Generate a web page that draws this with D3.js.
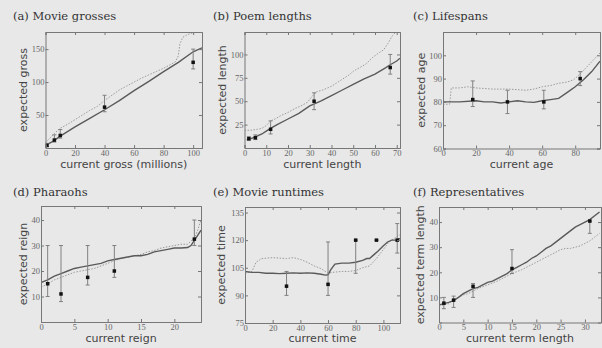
<!DOCTYPE html>
<html>
<head>
<meta charset="utf-8">
<script src="https://cdn.jsdelivr.net/npm/d3@7"></script>
<style>
  body { margin: 0; background: #e8e8e8; }
  svg { display: block; }
  .tick text { font-family: 'Liberation Serif', serif; font-size: 8.5px; fill: #666; }
  .tick line, .domain { stroke: #777; }
</style>
</head>
<body>
<div id="chart"></div>
<script>
// (a) Movie grosses
const grossXTicks = [0, 20, 40, 60, 80, 100];
const grossYTicks = [50, 100, 150];
const grossSolid = [[0, 4], [5, 10], [10, 18], [20, 32], [30, 45], [40, 58], [50, 72], [60, 87], [70, 101], [80, 116], [90, 130], [100, 146], [106, 152]];
const grossDotted = [[0, 8], [3, 15], [6, 22], [10, 30], [15, 36], [20, 43], [25, 50], [30, 57], [35, 63], [40, 72], [45, 80], [50, 88], [55, 94], [60, 100], [65, 106], [70, 111], [75, 116], [80, 121], [85, 127], [88, 131], [90, 140], [91, 158], [93, 168], [96, 172], [100, 175], [106, 178]];
const grossPoints = [[1, 4, 2, 7], [6, 12, 9, 20], [10, 19, 15, 28], [40, 62, 55, 80], [100, 130, 120, 150]];

// (b) Poem lengths
const poemXTicks = [0, 10, 20, 30, 40, 50, 60, 70];
const poemYTicks = [25, 50, 75, 100];
const poemSolid = [[1, 9], [3, 10], [5, 12], [8, 15], [10, 18], [12, 21], [15, 25], [20, 31], [25, 37], [30, 45], [35, 50], [40, 56], [45, 62], [50, 68], [55, 74], [60, 79], [65, 86], [67, 89], [70, 93], [71.5, 96]];
const poemDotted = [[0, 19], [3, 19], [6, 20], [8, 21], [10, 24], [12, 29], [14, 31], [17, 35], [20, 38], [23, 42], [26, 45], [29, 49], [31, 55], [33, 60], [36, 62], [40, 66], [44, 72], [48, 78], [50, 82], [53, 86], [56, 90], [59, 97], [62, 102], [64, 105], [66, 112], [68, 120], [70, 125]];
const poemPoints = [[2, 10, 8, 12], [5, 11, 9, 14], [12, 20, 15, 29], [32, 50, 41, 59], [67, 86, 79, 100]];

// (c) Lifespans
const lifeXTicks = [0, 20, 40, 60, 80];
const lifeYTicks = [60, 70, 80, 90, 100];
const lifeSolid = [[0, 80], [10, 80], [20, 80.5], [25, 80], [30, 80], [35, 79.5], [40, 80], [45, 80.5], [50, 80], [55, 79.8], [60, 80.5], [65, 81], [70, 81.5], [75, 84], [80, 86.5], [85, 89.5], [90, 93], [95, 97.5]];
const lifeDotted = [[0, 79], [4, 79], [5, 86], [10, 86], [15, 86.5], [20, 86], [30, 85.5], [40, 85.5], [50, 85], [55, 85.5], [60, 86.5], [65, 87], [70, 88], [75, 88.5], [79, 89.5], [83, 92], [87, 95], [91, 98], [95, 101]];
const lifePoints = [[18, 81, 78, 89], [39, 80, 75, 85], [61, 80, 77, 85], [83, 90, 87, 93]];

// (d) Pharaohs
const pharXTicks = [0, 5, 10, 15, 20];
const pharYTicks = [10, 20, 30, 40];
const pharSolid = [[0, 15.5], [1, 16.5], [2, 18], [3, 19], [4, 20], [5, 21], [6, 21.5], [7, 22], [8, 22.5], [9, 23], [10, 24], [11, 24.5], [12, 25], [13, 25.5], [14, 26], [15, 26], [16, 26.5], [17, 27.5], [18, 28], [19, 28.5], [20, 29], [21, 29], [22, 29.2], [22.5, 30], [23, 32], [23.5, 34], [24, 36]];
const pharDotted = [[0, 13.5], [1, 15], [2, 16.5], [3, 17.5], [4, 18.5], [5, 19.5], [6, 20], [7, 20.5], [8, 21], [9, 22], [10, 23], [11, 24], [12, 25], [13, 25.5], [14, 26], [15, 26.5], [16, 27.5], [17, 28], [18, 29], [19, 29.5], [20, 30], [21, 30.5], [22, 30.5], [23, 33], [23.5, 36], [24, 40]];
const pharPoints = [[1, 15, 10, 30], [3, 11, 8, 30], [7, 17.5, 14.5, 30], [11, 20, 17.5, 30], [23, 32.5, 30, 40]];

// (e) Movie runtimes
const runXTicks = [0, 20, 40, 60, 80, 100];
const runYTicks = [75, 90, 105, 120, 135];
const runSolid = [[0, 103], [5, 102.5], [10, 102.5], [15, 102], [20, 102], [25, 101.8], [30, 102], [35, 102.2], [40, 102], [45, 102.2], [50, 102], [55, 101.5], [58, 101], [60, 101.2], [62, 104], [65, 107], [70, 107.5], [75, 107.5], [80, 108], [85, 109], [88, 110], [90, 110], [93, 112], [96, 114], [100, 117], [103, 119], [106, 120], [110, 120], [112, 121]];
const runDotted = [[0, 102], [5, 103], [8, 108], [12, 110], [20, 110.5], [30, 110], [35, 110.5], [40, 109.5], [45, 108], [50, 106], [55, 104.5], [60, 102], [63, 102.5], [70, 103], [75, 103], [80, 103.5], [85, 105], [90, 106], [95, 110], [100, 115], [104, 119], [107, 120.5], [110, 122], [112, 123]];
const runPoints = [[30, 95, 90, 103], [60, 96, 90, 119], [80, 120, 102, 120], [95, 120, 120, 120], [110, 120, 113, 129]];

// (f) Representatives
const repXTicks = [0, 5, 10, 15, 20, 25, 30];
const repYTicks = [10, 20, 30, 40];
const repSolid = [[0, 7], [1, 7.5], [2, 8], [3, 8.7], [4, 10], [5, 11.5], [6, 12.5], [7, 13.5], [8, 14], [9, 15], [10, 16], [11, 16.5], [12, 17.5], [13, 18.5], [14, 19.5], [15, 21], [16, 22], [17, 23], [18, 24], [19, 25.5], [20, 26.5], [21, 28], [22, 29.5], [23, 30.5], [24, 32], [25, 33.5], [26, 35], [27, 36.5], [28, 38], [29, 39], [30, 40], [31, 41], [32, 42.5], [33, 44]];
const repDotted = [[0, 6.5], [1, 7], [2, 7.5], [3, 9], [4, 10], [5, 11], [6, 11.5], [7, 12.5], [8, 13.5], [10, 15], [12, 16.5], [14, 18.5], [15, 19.5], [17, 21], [19, 23], [20, 24], [22, 26], [24, 28], [25, 29], [26, 29.5], [27, 29.5], [28, 30], [29, 30.5], [30, 31.5], [31, 32.5], [32, 34], [33, 35.5]];
const repPoints = [[1, 7.7, 5.5, 10], [3, 8.9, 6, 10.5], [7, 14.4, 10, 15.5], [15, 21.5, 19.5, 29], [31, 40.4, 35.5, 40.4]];

const panels = [
    { title: '(a) Movie grosses', box: [45.5, 32, 202, 148], xDom: [0, 106], yDom: [0, 176], xTicks: grossXTicks, yTicks: grossYTicks,
      xLabel: 'current gross (millions)', yLabel: 'expected gross', solid: grossSolid, dotted: grossDotted, pts: grossPoints, tx: 13, ty: 20, lx: 23, ly: 167.5 },
    { title: '(b) Poem lengths', box: [244.5, 32, 400, 148], xDom: [0, 71.5], yDom: [0, 124], xTicks: poemXTicks, yTicks: poemYTicks,
      xLabel: 'current length', yLabel: 'expected length', solid: poemSolid, dotted: poemDotted, pts: poemPoints, tx: 213, ty: 20, lx: 222.5, ly: 167.5 },
    { title: '(c) Lifespans', box: [443, 32, 600, 148.5], xDom: [0, 95], yDom: [60, 110], xTicks: lifeXTicks, yTicks: lifeYTicks,
      xLabel: 'current age', yLabel: 'expected age', solid: lifeSolid, dotted: lifeDotted, pts: lifePoints, tx: 413, ty: 20, lx: 421.5, ly: 167.5 },
    { title: '(d) Pharaohs', box: [41, 206, 201, 322], xDom: [0, 24], yDom: [0, 45.5], xTicks: pharXTicks, yTicks: pharYTicks,
      xLabel: 'current reign', yLabel: 'expected reign', solid: pharSolid, dotted: pharDotted, pts: pharPoints, tx: 13, ty: 195.5, lx: 23, ly: 341.5 },
    { title: '(e) Movie runtimes', box: [245, 207, 400, 323], xDom: [0, 112], yDom: [75, 138], xTicks: runXTicks, yTicks: runYTicks,
      xLabel: 'current time', yLabel: 'expected time', solid: runSolid, dotted: runDotted, pts: runPoints, tx: 213, ty: 195.5, lx: 221.5, ly: 341.5 },
    { title: '(f) Representatives', box: [439, 207, 601, 322.5], xDom: [0, 33.3], yDom: [0, 46], xTicks: repXTicks, yTicks: repYTicks,
      xLabel: 'current term length', yLabel: 'expected term length', solid: repSolid, dotted: repDotted, pts: repPoints, tx: 413, ty: 195.5, lx: 420, ly: 341.5 }
];

const svg = d3.select('#chart').append('svg')
    .attr('width', 602)
    .attr('height', 348);

svg.append('rect').attr('width', 602).attr('height', 348).attr('fill', '#e8e8e8');

panels.forEach((p, i) => {
    const [x0, y0, x1, y1] = p.box;
    const x = d3.scaleLinear().domain(p.xDom).range([x0, x1]);
    const y = d3.scaleLinear().domain(p.yDom).range([y1, y0]);

    const clipId = 'clip' + i;
    svg.append('clipPath').attr('id', clipId)
        .append('rect').attr('x', x0).attr('y', y0).attr('width', x1 - x0).attr('height', y1 - y0);

    const g = svg.append('g');
    const plot = g.append('g').attr('clip-path', `url(#${clipId})`);

    const line = d3.line().x(d => x(d[0])).y(d => y(d[1]));

    plot.append('path')
        .datum(p.dotted)
        .attr('d', line)
        .attr('fill', 'none')
        .attr('stroke', '#9a9a9a')
        .attr('stroke-width', 1)
        .attr('stroke-dasharray', '1.5,1.5');

    plot.append('path')
        .datum(p.solid)
        .attr('d', line)
        .attr('fill', 'none')
        .attr('stroke', '#5a5a5a')
        .attr('stroke-width', 1.4);

    // error bars
    const bars = plot.selectAll('.bar').data(p.pts).enter().append('g');
    bars.append('line')
        .attr('x1', d => x(d[0])).attr('x2', d => x(d[0]))
        .attr('y1', d => y(d[2])).attr('y2', d => y(d[3]))
        .attr('stroke', '#808080').attr('stroke-width', 1);
    bars.append('line')
        .attr('x1', d => x(d[0]) - 2).attr('x2', d => x(d[0]) + 2)
        .attr('y1', d => y(d[3])).attr('y2', d => y(d[3]))
        .attr('stroke', '#808080').attr('stroke-width', 1);
    bars.append('line')
        .attr('x1', d => x(d[0]) - 2).attr('x2', d => x(d[0]) + 2)
        .attr('y1', d => y(d[2])).attr('y2', d => y(d[2]))
        .attr('stroke', '#808080').attr('stroke-width', 1);
    bars.append('rect')
        .attr('x', d => x(d[0]) - 1.75).attr('y', d => y(d[1]) - 1.75)
        .attr('width', 3.5).attr('height', 3.5)
        .attr('fill', '#111');

    // axes, ticks inward on all sides
    g.append('g').attr('transform', `translate(0,${y1})`)
        .call(d3.axisBottom(x).tickValues(p.xTicks).tickSize(-3).tickPadding(1.5).tickFormat(d3.format('d')));
    g.append('g').attr('transform', `translate(${x0},0)`)
        .call(d3.axisLeft(y).tickValues(p.yTicks).tickSize(-3).tickPadding(1).tickFormat(d3.format('d')));
    g.append('g').attr('transform', `translate(0,${y0})`)
        .call(d3.axisTop(x).tickValues(p.xTicks).tickSize(-3).tickFormat(''));
    g.append('g').attr('transform', `translate(${x1},0)`)
        .call(d3.axisRight(y).tickValues(p.yTicks).tickSize(-3).tickFormat(''));
    g.selectAll('.domain').attr('stroke', '#777');

    g.append('text')
        .attr('x', p.tx).attr('y', p.ty)
        .text(p.title)
        .style('font-family', "'DejaVu Serif', serif")
        .style('font-size', '11.5px')
        .style('fill', '#333');

    g.append('text')
        .attr('x', (x0 + x1) / 2).attr('y', p.ly)
        .attr('text-anchor', 'middle')
        .text(p.xLabel)
        .style('font-family', "'DejaVu Sans', sans-serif")
        .style('font-size', '11px')
        .style('fill', '#444');

    g.append('text')
        .attr('transform', `translate(${p.lx},${(y0 + y1) / 2})rotate(-90)`)
        .attr('text-anchor', 'middle')
        .attr('dy', '0.35em')
        .text(p.yLabel)
        .style('font-family', "'DejaVu Sans', sans-serif")
        .style('font-size', '11px')
        .style('fill', '#444');
});
</script>
</body>
</html>
